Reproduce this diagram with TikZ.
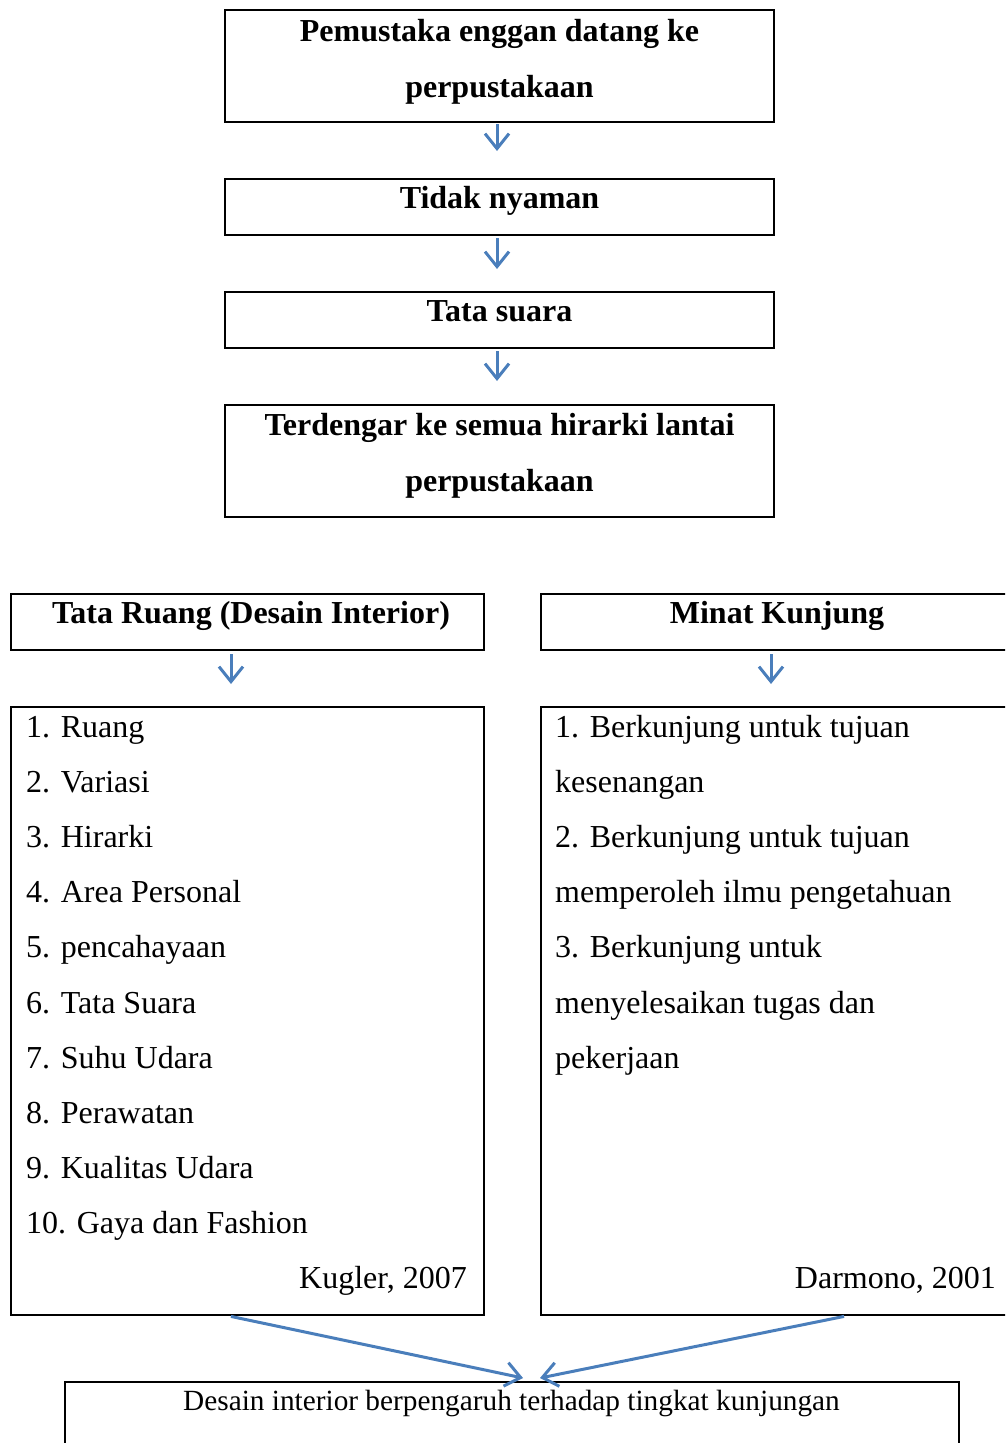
\documentclass[tikz,border=0pt]{standalone}
\usepackage{fontspec}
\setmainfont{Liberation Serif}
\usetikzlibrary{arrows.meta}
\definecolor{arrblue}{HTML}{4A7EBB}
\tikzset{
  box/.style={draw=black, line width=2pt, rectangle, inner sep=0pt},
  head/.style={inner sep=0pt, anchor=base, font=\fontsize{32}{38}\selectfont\bfseries},
  item/.style={inner sep=0pt, anchor=base west, font=\fontsize{32}{38}\selectfont},
  cite/.style={inner sep=0pt, anchor=base east, font=\fontsize{32}{38}\selectfont},
  arr/.style={draw=arrblue, line width=3pt, -{Straight Barb[length=15pt,width=24pt,line width=3pt]}}
}
\begin{document}
\begin{tikzpicture}[x=1pt,y=-1pt]
\useasboundingbox (0,0) rectangle (1005,1443);
\clip (0,0) rectangle (1005,1443);
% top chain boxes
\node[box, minimum width=549pt, minimum height=112pt] (b1) at (499.5,66) {};
\node[box, minimum width=549pt, minimum height=56pt] (b2) at (499.5,207) {};
\node[box, minimum width=549pt, minimum height=56pt] (b3) at (499.5,320) {};
\node[box, minimum width=549pt, minimum height=112pt] (b4) at (499.5,461) {};
% headings
\node[box, minimum width=473pt, minimum height=56pt] (b5) at (247.5,622) {};
\node[box, minimum width=474pt, minimum height=56pt] (b6) at (778,622) {};
% lists
\node[box, minimum width=473pt, minimum height=608pt] (b7) at (247.5,1011) {};
\node[box, minimum width=474pt, minimum height=608pt] (b8) at (778,1011) {};
% bottom
\node[box, minimum width=894pt, minimum height=90pt] (b9) at (512,1427) {};

% texts
\node[head] (t1a) at (499.5,41) {Pemustaka enggan datang ke};
\node[head] (t1b) at (499.5,97) {perpustakaan};
\node[head] (t2) at (499.5,208) {Tidak nyaman};
\node[head] (t3) at (499.5,321) {Tata suara};
\node[head] (t4a) at (499.5,435) {Terdengar ke semua hirarki lantai};
\node[head] (t4b) at (499.5,491) {perpustakaan};
\node[head] (t5) at (251,623) {Tata Ruang (Desain Interior)};
\node[head] (t6) at (777,623) {Minat Kunjung};

\node[item] (l1) at (26,737) {1. Ruang};
\node[item] (l2) at (26,792) {2. Variasi};
\node[item] (l3) at (26,847) {3. Hirarki};
\node[item] (l4) at (26,902) {4. Area Personal};
\node[item] (l5) at (26,957) {5. pencahayaan};
\node[item] (l6) at (26,1013) {6. Tata Suara};
\node[item] (l7) at (26,1068) {7. Suhu Udara};
\node[item] (l8) at (26,1123) {8. Perawatan};
\node[item] (l9) at (26,1178) {9. Kualitas Udara};
\node[item] (l10) at (26,1233) {10. Gaya dan Fashion};
\node[cite] (c1) at (467,1288) {Kugler, 2007};

\node[item] (r1) at (555,737) {1. Berkunjung untuk tujuan};
\node[item] (r2) at (555,792) {kesenangan};
\node[item] (r3) at (555,847) {2. Berkunjung untuk tujuan};
\node[item] (r4) at (555,902) {memperoleh ilmu pengetahuan};
\node[item] (r5) at (555,957) {3. Berkunjung untuk};
\node[item] (r6) at (555,1013) {menyelesaikan tugas dan};
\node[item] (r7) at (555,1068) {pekerjaan};
\node[cite] (c2) at (996,1288) {Darmono, 2001};

\node[inner sep=0pt, anchor=base, font=\fontsize{29.3}{35}\selectfont] (t9) at (511.5,1410) {Desain interior berpengaruh terhadap tingkat kunjungan};

% arrows
\draw[arr, shorten <=1pt, shorten >=27pt] ([xshift=-2.5pt]b1.south) -- ([xshift=-2.5pt]b2.north);
\draw[arr, shorten <=2pt, shorten >=22pt] ([xshift=-2.5pt]b2.south) -- ([xshift=-2.5pt]b3.north);
\draw[arr, shorten <=2pt, shorten >=23pt] ([xshift=-2.5pt]b3.south) -- ([xshift=-2.5pt]b4.north);
\draw[arr, shorten <=3pt, shorten >=22pt] ([xshift=-16.5pt]b5.south) -- ([xshift=-16.5pt]b7.north);
\draw[arr, shorten <=3pt, shorten >=22pt] ([xshift=-7pt]b6.south) -- ([xshift=-7pt]b8.north);
\coordinate (ta) at (523,1378);
\coordinate (tb) at (540,1378);
\draw[arr, shorten <=2pt] ([xshift=-18.5pt]b7.south) -- (ta);
\draw[arr, shorten <=2pt] ([xshift=68pt]b8.south) -- (tb);
\end{tikzpicture}
\end{document}
